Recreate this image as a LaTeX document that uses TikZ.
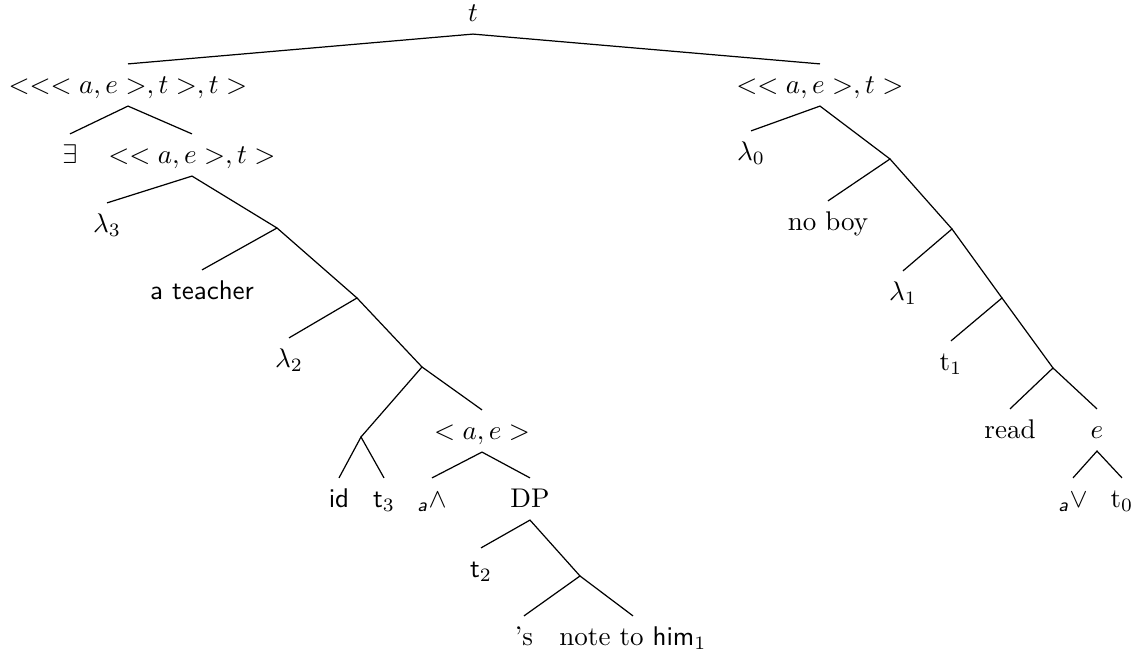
\documentclass[tikz,border=0pt]{standalone}
\usepackage{amsmath}
\usepackage{tikz}
\begin{document}
\begin{tikzpicture}[x=0.37pt, y=-0.37pt,
			lbl/.style={inner sep=2pt, text height=2ex, text depth=0.6ex},   %Beschriftungen
			ast/.style={line width=0.45pt}]
			\useasboundingbox (0,0) rectangle (1135,654);
			% Knoten links
			\node[lbl] (root) at (473,13) {$t$};
			\node[lbl] (ltop) at (128,85) {$<<<a,e>,t>,t>$};
			\node[lbl] (exists) at (70,155) {$\exists$};
			\node[lbl] (lq) at (192,155) {$<<a,e>,t>$};
			\node[lbl] (lamthree) at (107,224) {$\lambda_3$};
			\node[lbl] (teacher) at (202,291) {\textsf{a teacher}};
			\node[lbl] (lamtwo) at (289,359) {$\lambda_2$};
			\node[lbl] (ae) at (482,431) {$<a,e>$};
			\node[lbl] (id) at (339,499) {\textsf{id}};
			\node[lbl] (tthree) at (384,499) {$\textsf{t}_3$};
			\node[lbl] (wedge) at (432,499) {${}_{\textsf{\textit{a}}}\wedge$};
			\node[lbl] (dp) at (530,499) {DP};
			\node[lbl] (ttwo) at (481,569) {$\textsf{t}_2$};
			\node[lbl] (poss) at (524,637) {'s};
			\node[lbl] (note) at (633,637) {note to $\textsf{him}_1$};
			% Knoten rechts
			\node[lbl] (rtop) at (820,85) {$<<a,e>,t>$};
			\node[lbl] (lamzero) at (751,152) {$\lambda_0$};
			\node[lbl] (noboy) at (828,222) {no boy};
			\node[lbl] (lamone) at (903,292) {$\lambda_1$};
			\node[lbl] (tone) at (951,362) {$\mathrm{t}_1$};
			\node[lbl] (read) at (1010,430) {read};
			\node[lbl] (e) at (1097,430) {$e$};
			\node[lbl] (vee) at (1073,499) {${}_{\textsf{\textit{a}}}\vee$};
			\node[lbl] (tzero) at (1122,499) {$\mathrm{t}_0$};
			% Verzweigungen
			\coordinate (bone) at (277,228);
			\coordinate (btwo) at (357,298);
			\coordinate (bthree) at (422,367);
			\coordinate (bfour) at (361,437);
			\coordinate (bfive) at (580,576);
			\coordinate (rone) at (890,159);
			\coordinate (rtwo) at (952,229);
			\coordinate (rthree) at (1002,298);
			\coordinate (rfour) at (1053,368);
			% Aeste zeichnen
			\draw[ast] (ltop.north) -- (root.south) -- (rtop.north);
			\draw[ast] (exists.north) -- (ltop.south) -- (lq.north);
			\draw[ast] (lamthree.north) -- (lq.south) -- (bone);
			\draw[ast] (teacher.north) -- (bone) -- (btwo);
			\draw[ast] (lamtwo.north) -- (btwo) -- (bthree);
			\draw[ast] (bfour) -- (bthree) -- (ae.north);
			\draw[ast] (id.north) -- (bfour) -- (tthree.north);
			\draw[ast] (wedge.north) -- (ae.south) -- (dp.north);
			\draw[ast] (ttwo.north) -- (dp.south) -- (bfive);
			\draw[ast] (poss.north) -- (bfive) -- (note.north);
			\draw[ast] (lamzero.north) -- (rtop.south) -- (rone);
			\draw[ast] (noboy.north) -- (rone) -- (rtwo);
			\draw[ast] (lamone.north) -- (rtwo) -- (rthree);
			\draw[ast] (tone.north) -- (rthree) -- (rfour);
			\draw[ast] (read.north) -- (rfour) -- (e.north);
			\draw[ast] (vee.north) -- (e.south) -- (tzero.north);
		\end{tikzpicture}
\end{document}
